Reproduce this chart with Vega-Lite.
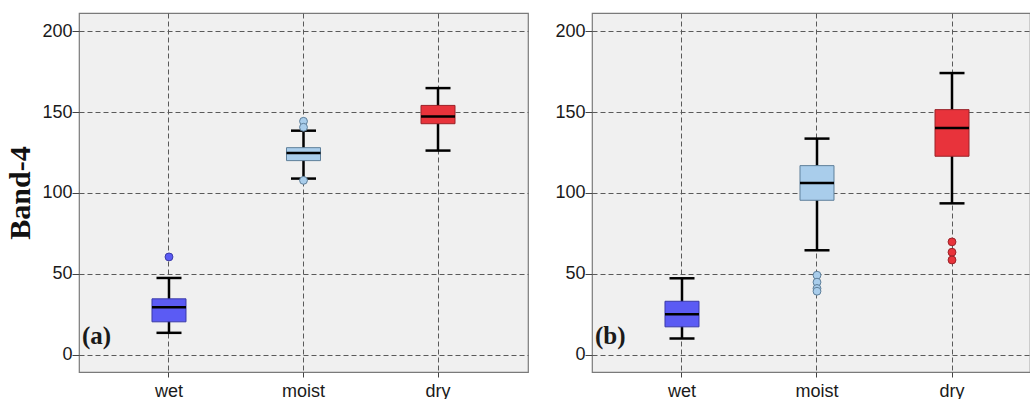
{
  "$schema": "https://vega.github.io/schema/vega-lite/v6.json",
  "padding": {"left": 5, "top": 12, "right": 0, "bottom": 0},
  "background": "white",
  "bounds": "flush",
  "spacing": 64,
  "datasets": {
    "boxes": [
      {"panel": "a", "soil": "wet", "lower": 13.6, "q1": 20.4, "median": 29.4, "q3": 34.6, "upper": 47.5},
      {"panel": "a", "soil": "moist", "lower": 108.9, "q1": 120.0, "median": 124.7, "q3": 128.0, "upper": 138.5},
      {"panel": "a", "soil": "dry", "lower": 126.2, "q1": 142.8, "median": 147.3, "q3": 154.1, "upper": 164.8},
      {"panel": "b", "soil": "wet", "lower": 10.1, "q1": 17.3, "median": 25.1, "q3": 33.1, "upper": 47.3},
      {"panel": "b", "soil": "moist", "lower": 64.6, "q1": 95.5, "median": 106.2, "q3": 116.9, "upper": 133.6},
      {"panel": "b", "soil": "dry", "lower": 93.6, "q1": 122.7, "median": 140.1, "q3": 151.5, "upper": 174.1}
    ],
    "outliers": [
      {"panel": "a", "soil": "wet", "value": 60.5},
      {"panel": "a", "soil": "moist", "value": 144.3},
      {"panel": "a", "soil": "moist", "value": 140.6},
      {"panel": "a", "soil": "moist", "value": 107.8},
      {"panel": "b", "soil": "moist", "value": 49.2},
      {"panel": "b", "soil": "moist", "value": 44.9},
      {"panel": "b", "soil": "moist", "value": 41.0},
      {"panel": "b", "soil": "moist", "value": 39.3},
      {"panel": "b", "soil": "dry", "value": 69.8},
      {"panel": "b", "soil": "dry", "value": 63.4},
      {"panel": "b", "soil": "dry", "value": 58.6}
    ],
    "tags": [
      {"panel": "a", "tag": "(a)"},
      {"panel": "b", "tag": "(b)"}
    ]
  },
  "config": {
    "view": {"fill": "#f0f0f0", "stroke": "#7a7a7a", "strokeWidth": 1.2},
    "axis": {
      "domain": false,
      "grid": true,
      "gridColor": "#5a5a5a",
      "gridDash": [5, 3],
      "gridOpacity": 1,
      "gridWidth": 1,
      "labelFont": "Liberation Sans",
      "labelFontSize": 18,
      "labelColor": "#1a1a1a",
      "tickColor": "#444444",
      "tickSize": 7,
      "tickWidth": 1
    },
    "axisX": {"tickDash": [5, 3], "labelPadding": 3, "labelAngle": 0},
    "axisY": {"labelPadding": 0}
  },
  "hconcat": [
    {
      "width": 449,
      "height": 359,
      "layer": [
        {
          "data": {"name": "boxes"},
          "transform": [{"filter": "datum.panel === 'a'"}],
          "mark": {"type": "rule", "color": "black", "strokeWidth": 2.5},
          "encoding": {
            "x": {"field": "soil", "type": "nominal", "sort": ["wet", "moist", "dry"],
                  "scale": {"paddingInner": 0.5, "paddingOuter": 0.419},
                  "axis": {"title": null}},
            "y": {"field": "lower", "type": "quantitative",
                  "scale": {"domain": [-10.6, 211.2], "nice": false, "zero": false},
                  "axis": {"values": [0, 50, 100, 150, 200], "title": "Band-4",
                           "titleFont": "Liberation Serif", "titleFontWeight": "bold",
                           "titleFontSize": 30, "titleColor": "#111111", "titlePadding": 6}},
            "y2": {"field": "upper"}
          }
        },
        {
          "data": {"name": "boxes"},
          "transform": [{"filter": "datum.panel === 'a'"}],
          "mark": {"type": "tick", "color": "black", "size": 25, "thickness": 2.5, "opacity": 1},
          "encoding": {
            "x": {"field": "soil", "type": "nominal", "sort": ["wet", "moist", "dry"]},
            "y": {"field": "lower", "type": "quantitative"}
          }
        },
        {
          "data": {"name": "boxes"},
          "transform": [{"filter": "datum.panel === 'a'"}],
          "mark": {"type": "tick", "color": "black", "size": 25, "thickness": 2.5, "opacity": 1},
          "encoding": {
            "x": {"field": "soil", "type": "nominal", "sort": ["wet", "moist", "dry"]},
            "y": {"field": "upper", "type": "quantitative"}
          }
        },
        {
          "data": {"name": "boxes"},
          "transform": [{"filter": "datum.panel === 'a'"}],
          "mark": {"type": "bar", "size": 34, "strokeWidth": 1},
          "encoding": {
            "x": {"field": "soil", "type": "nominal", "sort": ["wet", "moist", "dry"]},
            "y": {"field": "q1", "type": "quantitative"},
            "y2": {"field": "q3"},
            "fill": {"field": "soil", "type": "nominal", "legend": null,
                     "scale": {"domain": ["wet", "moist", "dry"], "range": ["#5b5bf4", "#a9cdeb", "#e8333b"]}},
            "stroke": {"field": "soil", "type": "nominal", "legend": null,
                       "scale": {"domain": ["wet", "moist", "dry"], "range": ["#3a3aa8", "#5e7f9a", "#9a2228"]}}
          }
        },
        {
          "data": {"name": "boxes"},
          "transform": [{"filter": "datum.panel === 'a'"}],
          "mark": {"type": "tick", "color": "black", "size": 34, "thickness": 2.5, "opacity": 1},
          "encoding": {
            "x": {"field": "soil", "type": "nominal", "sort": ["wet", "moist", "dry"]},
            "y": {"field": "median", "type": "quantitative"}
          }
        },
        {
          "data": {"name": "outliers"},
          "transform": [{"filter": "datum.panel === 'a'"}],
          "mark": {"type": "point", "filled": true, "size": 62, "opacity": 1, "strokeWidth": 1},
          "encoding": {
            "x": {"field": "soil", "type": "nominal", "sort": ["wet", "moist", "dry"]},
            "y": {"field": "value", "type": "quantitative"},
            "fill": {"field": "soil", "type": "nominal", "legend": null},
            "stroke": {"field": "soil", "type": "nominal", "legend": null}
          }
        },
        {
          "data": {"name": "tags"},
          "transform": [{"filter": "datum.panel === 'a'"}],
          "mark": {"type": "text", "font": "Liberation Serif", "fontWeight": "bold", "fontSize": 25,
                   "align": "left", "baseline": "alphabetic", "color": "#1a1a1a"},
          "encoding": {
            "x": {"value": 3},
            "y": {"datum": 6.5, "type": "quantitative"},
            "text": {"field": "tag"}
          }
        }
      ]
    },
    {
      "width": 438,
      "height": 359,
      "layer": [
        {
          "data": {"name": "boxes"},
          "transform": [{"filter": "datum.panel === 'b'"}],
          "mark": {"type": "rule", "color": "black", "strokeWidth": 2.5},
          "encoding": {
            "x": {"field": "soil", "type": "nominal", "sort": ["wet", "moist", "dry"],
                  "scale": {"paddingInner": 0.5, "paddingOuter": 0.3722, "align": 0.5597},
                  "axis": {"title": null}},
            "y": {"field": "lower", "type": "quantitative",
                  "scale": {"domain": [-10.6, 211.2], "nice": false, "zero": false},
                  "axis": {"values": [0, 50, 100, 150, 200], "title": null}},
            "y2": {"field": "upper"}
          }
        },
        {
          "data": {"name": "boxes"},
          "transform": [{"filter": "datum.panel === 'b'"}],
          "mark": {"type": "tick", "color": "black", "size": 25, "thickness": 2.5, "opacity": 1},
          "encoding": {
            "x": {"field": "soil", "type": "nominal", "sort": ["wet", "moist", "dry"]},
            "y": {"field": "lower", "type": "quantitative"}
          }
        },
        {
          "data": {"name": "boxes"},
          "transform": [{"filter": "datum.panel === 'b'"}],
          "mark": {"type": "tick", "color": "black", "size": 25, "thickness": 2.5, "opacity": 1},
          "encoding": {
            "x": {"field": "soil", "type": "nominal", "sort": ["wet", "moist", "dry"]},
            "y": {"field": "upper", "type": "quantitative"}
          }
        },
        {
          "data": {"name": "boxes"},
          "transform": [{"filter": "datum.panel === 'b'"}],
          "mark": {"type": "bar", "size": 34, "strokeWidth": 1},
          "encoding": {
            "x": {"field": "soil", "type": "nominal", "sort": ["wet", "moist", "dry"]},
            "y": {"field": "q1", "type": "quantitative"},
            "y2": {"field": "q3"},
            "fill": {"field": "soil", "type": "nominal", "legend": null,
                     "scale": {"domain": ["wet", "moist", "dry"], "range": ["#5b5bf4", "#a9cdeb", "#e8333b"]}},
            "stroke": {"field": "soil", "type": "nominal", "legend": null,
                       "scale": {"domain": ["wet", "moist", "dry"], "range": ["#3a3aa8", "#5e7f9a", "#9a2228"]}}
          }
        },
        {
          "data": {"name": "boxes"},
          "transform": [{"filter": "datum.panel === 'b'"}],
          "mark": {"type": "tick", "color": "black", "size": 34, "thickness": 2.5, "opacity": 1},
          "encoding": {
            "x": {"field": "soil", "type": "nominal", "sort": ["wet", "moist", "dry"]},
            "y": {"field": "median", "type": "quantitative"}
          }
        },
        {
          "data": {"name": "outliers"},
          "transform": [{"filter": "datum.panel === 'b'"}],
          "mark": {"type": "point", "filled": true, "size": 62, "opacity": 1, "strokeWidth": 1},
          "encoding": {
            "x": {"field": "soil", "type": "nominal", "sort": ["wet", "moist", "dry"]},
            "y": {"field": "value", "type": "quantitative"},
            "fill": {"field": "soil", "type": "nominal", "legend": null},
            "stroke": {"field": "soil", "type": "nominal", "legend": null}
          }
        },
        {
          "data": {"name": "tags"},
          "transform": [{"filter": "datum.panel === 'b'"}],
          "mark": {"type": "text", "font": "Liberation Serif", "fontWeight": "bold", "fontSize": 25,
                   "align": "left", "baseline": "alphabetic", "color": "#1a1a1a"},
          "encoding": {
            "x": {"value": 3},
            "y": {"datum": 6.5, "type": "quantitative"},
            "text": {"field": "tag"}
          }
        }
      ]
    }
  ]
}
